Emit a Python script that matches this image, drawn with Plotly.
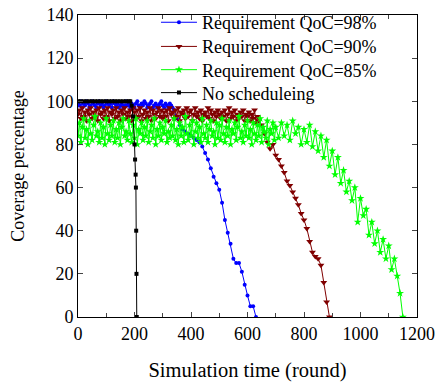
import plotly.graph_objects as go

# Simulation rounds
rounds_98 = list(range(0, 340, 5)) + list(range(340, 640, 10))
rounds_90 = list(range(0, 640, 5)) + list(range(640, 900, 10))
rounds_85 = list(range(0, 700, 5)) + list(range(700, 1160, 10))
rounds_none = [0, 10, 20, 30, 40, 50, 60, 70, 80, 90, 100, 110, 120, 130, 140, 150,
               160, 170, 180, 185, 190, 195, 200, 202, 204, 205, 206, 207, 208]

cov_98 = [99, 98, 100, 97, 99, 98, 100, 99, 97, 98, 100, 99, 98, 97, 99, 100, 98, 99, 97, 98,
          100, 99, 98, 99, 97, 100, 99, 98, 99, 97, 98, 99, 97, 98, 100, 98, 99, 97, 99, 98,
          97, 99, 100, 98, 97, 99, 98, 100, 99, 97, 98, 99, 100, 97, 98, 99, 97, 98, 99, 100,
          98, 97, 99, 98, 97, 99, 98, 97,
          96, 92, 89, 87, 86, 85, 84, 83, 82,
          81, 79, 76, 73, 69, 65, 62, 59, 53, 45,
          39, 34, 27, 25, 25, 21, 15, 10, 5, 5,
          0]

cov_90 = [94, 96, 92, 97, 93, 95, 91, 96, 94, 97, 92, 95, 93, 96, 91, 97, 94, 95, 92, 96,
          93, 97, 91, 95, 94, 96, 92, 97, 93, 95, 91, 96, 94, 97, 92, 95, 93, 96, 91, 97,
          95, 92, 96, 93, 97, 91, 94, 96, 92, 95, 93, 97, 91, 96, 94, 92, 95, 97, 93, 96,
          92, 95, 93, 96, 91, 97, 94, 95, 92, 96, 93, 97, 91, 95, 94, 96, 92, 97, 93, 95,
          96, 91, 94, 97, 93, 95, 92, 96, 91, 94, 95, 93, 97, 92, 96, 94, 91, 95, 93, 96,
          94, 92, 95, 93, 96, 91, 94, 97, 92, 95, 93, 96, 91, 94, 92, 95, 93, 96, 91, 94,
          93, 95, 91, 94, 92, 96, 90, 93,
          91, 89, 85, 81, 78, 80, 75, 73, 70, 67,
          63, 61, 58, 55, 52, 48, 45, 41, 35, 30,
          28, 27, 24, 16, 7, 0]

cov_85 = [84, 90, 81, 88, 92, 83, 87, 80, 91, 85, 82, 89, 93, 84, 86, 81, 90, 83, 88, 80,
          92, 85, 82, 89, 84, 91, 81, 87, 83, 90, 80, 88, 92, 84, 86, 82, 91, 85, 81, 89,
          83, 92, 80, 87, 85, 90, 82, 88, 84, 91, 81, 86, 89, 83, 92, 80, 87, 84, 90, 82,
          88, 85, 91, 81, 86, 83, 89, 84, 92, 82, 87, 80, 90, 84, 88, 81, 93, 85, 82, 89,
          84, 91, 80, 86, 90, 83, 88, 81, 92, 85, 83, 89, 81, 87, 91, 84, 86, 80, 90, 83,
          89, 82, 92, 85, 81, 88, 84, 91, 80, 87, 85, 90, 82, 88, 93, 83, 86, 81, 89, 84,
          91, 83, 87, 80, 90, 85, 82, 89, 84, 92, 81, 88, 86, 83, 91, 80, 87, 85, 90, 82,
          88, 83, 90, 84, 89, 82, 91, 85, 88, 80,
          87, 81, 89, 79, 86, 77, 84, 74, 82, 70,
          77, 66, 74, 62, 68, 58, 63, 54, 60, 44,
          55, 47, 50, 38, 44, 34, 40, 30, 36, 27,
          33, 22, 27, 19, 11, 0]

cov_none = [100] * 19 + [100, 98, 93, 80, 73, 66, 60, 40, 20, 0]

series_names = ["Requirement QoC=98%", "Requirement QoC=90%",
                "Requirement QoC=85%", "No scheduleing"]

styles = [
    ("#0000FF", "circle", 4),
    ("#800000", "triangle-down", 6),
    ("#00FF00", "star", 6),
    ("#000000", "square", 4),
]
data = [(rounds_98, cov_98), (rounds_90, cov_90), (rounds_85, cov_85), (rounds_none, cov_none)]

font = "Times New Roman, Liberation Serif, serif"
legend_ids = ["legend", "legend2", "legend3", "legend4"]
legend_y = [0.975, 0.895, 0.818, 0.742]

fig = go.Figure()
for name, (x, y), (color, sym, size), lid in zip(series_names, data, styles, legend_ids):
    fig.add_trace(go.Scatter(
        x=x, y=y, name=name, mode="lines+markers", legend=lid,
        line=dict(color=color, width=1),
        marker=dict(symbol=sym, size=size, color=color, line=dict(width=0)),
    ))

legend_common = dict(x=0.23, xanchor="left", yanchor="middle",
                     bgcolor="rgba(0,0,0,0)", borderwidth=0,
                     font=dict(family=font, size=18, color="black"),
                     itemwidth=36)
layout_legends = {lid: dict(legend_common, y=ly) for lid, ly in zip(legend_ids, legend_y)}

fig.update_layout(
    width=436, height=382,
    margin=dict(l=78, r=19, t=15, b=65, autoexpand=False),
    paper_bgcolor="white", plot_bgcolor="white",
    font=dict(family=font, size=18, color="black"),
    showlegend=True,
    xaxis=dict(range=[0, 1200], dtick=200, tick0=0, ticks="inside", ticklen=5,
               showline=True, linecolor="black", linewidth=1, mirror="ticks",
               showgrid=False, zeroline=False, automargin=False,
               minor=dict(dtick=100, ticks="inside", ticklen=4, showgrid=False),
               title=dict(text="Simulation time (round)", standoff=21,
                          font=dict(family=font, size=20.5, color="black")),
               tickfont=dict(family=font, size=18, color="black")),
    yaxis=dict(range=[0, 140], dtick=20, ticks="inside", ticklen=5,
               showline=True, linecolor="black", linewidth=1, mirror="ticks",
               showgrid=False, zeroline=False, automargin=False,
               title=dict(text="Coverage percentage", standoff=17,
                          font=dict(family=font, size=18, color="black")),
               tickfont=dict(family=font, size=18, color="black")),
    **layout_legends,
)

fig.write_html("out.html", config={"displayModeBar": False},
               post_script="document.body.style.margin='0';")
